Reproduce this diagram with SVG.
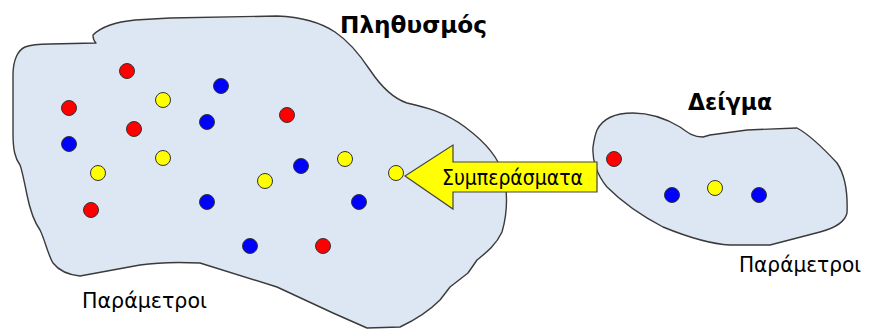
<svg xmlns="http://www.w3.org/2000/svg" width="871" height="329" viewBox="0 0 871 329">
<style>
.blob{fill:#dce7f3;stroke:#3a3a3a;stroke-width:1.4;stroke-linejoin:round}
.dot{stroke:#333;stroke-width:1}
.r{fill:#ff0000}.b{fill:#0000ff}.y{fill:#ffff00}
.title{font-family:"DejaVu Sans","Liberation Sans",sans-serif;font-weight:bold;font-size:23px;fill:#000}
.lbl{font-family:"DejaVu Sans","Liberation Sans",sans-serif;font-size:22px;fill:#000}
.arrow{fill:#ffff00;stroke:#444;stroke-width:1.2;stroke-linejoin:miter}
</style>
<g id="population">
<path class="blob" d="M 93,35 C 100,28 115,22 135,20 L 170,18 L 277,16 C 300,17 320,22 335,32 C 350,42 360,55 370,70 C 380,85 392,98 407,103 C 425,107 445,112 465,127 C 485,142 500,158 505,180 C 508,200 507,215 502,232 C 496,245 487,252 477,260 L 468,273 L 450,287 L 440,300 C 430,310 415,320 400,327 L 367,328 L 333,313 L 277,287 L 200,263 C 180,262 160,262 140,265 L 80,276 C 70,275 60,272 53,263 C 48,255 45,240 40,230 C 33,220 30,210 27,195 C 25,185 22,170 20,165 C 15,158 13,150 13,133 L 13,75 C 13,60 18,50 25,47 C 30,45 40,44 50,44 L 96,43 C 94,41 93,38 93,35 Z"/>
<circle class="dot r" cx="127" cy="71" r="7.5"/>
<circle class="dot r" cx="69" cy="108" r="7.5"/>
<circle class="dot y" cx="163" cy="100" r="7.5"/>
<circle class="dot b" cx="221" cy="86" r="7.5"/>
<circle class="dot b" cx="207" cy="122" r="7.5"/>
<circle class="dot r" cx="134" cy="129" r="7.5"/>
<circle class="dot b" cx="69" cy="144" r="7.5"/>
<circle class="dot y" cx="163" cy="158" r="7.5"/>
<circle class="dot y" cx="98" cy="173" r="7.5"/>
<circle class="dot r" cx="287" cy="115" r="7.5"/>
<circle class="dot b" cx="301" cy="166" r="7.5"/>
<circle class="dot y" cx="345" cy="159" r="7.5"/>
<circle class="dot y" cx="265" cy="181" r="7.5"/>
<circle class="dot r" cx="91" cy="210" r="7.5"/>
<circle class="dot b" cx="207" cy="202" r="7.5"/>
<circle class="dot b" cx="359" cy="202" r="7.5"/>
<circle class="dot b" cx="250" cy="246" r="7.5"/>
<circle class="dot r" cx="323" cy="246" r="7.5"/>
<circle class="dot y" cx="396" cy="173" r="7.5"/>
<text class="title" x="340" y="33" textLength="147" lengthAdjust="spacingAndGlyphs">Πληθυσμός</text>
<text class="lbl" x="82" y="308" textLength="125" lengthAdjust="spacingAndGlyphs">Παράμετροι</text>
</g>
<g id="sample">
<path class="blob" d="M 597,130 C 603,118 615,113 633,113 C 650,113 665,118 680,127 C 688,133 693,137 703,137 L 710,135 L 747,130 L 797,128 C 810,135 825,150 837,163 C 845,175 848,190 847,213 C 845,222 835,228 820,232 L 770,245 L 730,245 C 710,244 690,238 663,227 C 640,215 620,200 607,187 C 597,175 592,160 593,147 C 594,140 595,135 597,130 Z"/>
<circle class="dot r" cx="614" cy="159" r="7.5"/>
<circle class="dot b" cx="672" cy="195" r="7.5"/>
<circle class="dot y" cx="715" cy="188" r="7.5"/>
<circle class="dot b" cx="759" cy="195" r="7.5"/>
<text class="title" x="688" y="110" textLength="84" lengthAdjust="spacingAndGlyphs">Δείγμα</text>
<text class="lbl" x="739" y="272" textLength="122" lengthAdjust="spacingAndGlyphs">Παράμετροι</text>
</g>
<g id="connectors">
<path class="arrow" d="M 597,162 L 453,162 L 453,145 L 405,176 L 453,209 L 453,192 L 597,192 Z"/>
<text class="lbl" x="442" y="185" textLength="141" lengthAdjust="spacingAndGlyphs">Συμπεράσματα</text>
</g>
</svg>
